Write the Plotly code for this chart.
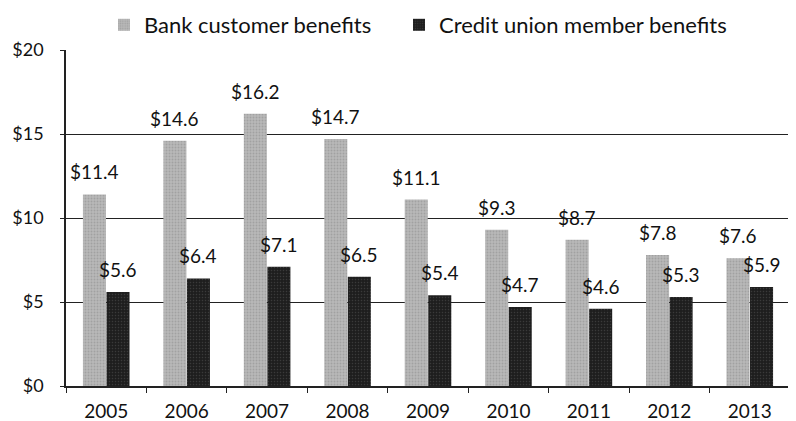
import plotly.graph_objects as go

years = ["2005", "2006", "2007", "2008", "2009", "2010", "2011", "2012", "2013"]
bank = [11.4, 14.6, 16.2, 14.7, 11.1, 9.3, 8.7, 7.8, 7.6]
credit_union = [5.6, 6.4, 7.1, 6.5, 5.4, 4.7, 4.6, 5.3, 5.9]
y_ticks = [0, 5, 10, 15, 20]
y_tick_labels = ["$0", "$5", "$10", "$15", "$20"]

FONT = "Lato"
W, H = 788, 413  # page body has an 8px margin
L, R, T, B = 58, 6, 42, 35
BARGAP = 0.415

fig = go.Figure()
fig.add_trace(go.Bar(
    x=years, y=bank, name="Bank customer benefits", legend="legend",
    marker=dict(color="#b8b8b8", line=dict(width=0),
                pattern=dict(shape=".", fgcolor="#8a8a8a", size=3, solidity=0.3)),
))
fig.add_trace(go.Bar(
    x=years, y=credit_union, name="Credit union member benefits", legend="legend2",
    marker=dict(color="#1e1e1e", line=dict(width=0),
                pattern=dict(shape=".", fgcolor="#555", size=3, solidity=0.2)),
))

# value labels placed above each bar (offset to each bar's centre within the group)
cat_w = (W - L - R) / len(years)
half = cat_w * (1 - BARGAP) / 4
for series, shift in ((bank, -half), (credit_union, half)):
    for i, v in enumerate(series):
        fig.add_annotation(x=i, y=v, xref="x", yref="y", text=f"${v}", showarrow=False,
                           xanchor="center", yanchor="bottom",
                           xshift=shift, yshift=9,
                           font=dict(family=FONT, size=19, color="#111"))

legend_common = dict(orientation="h", xref="container", yref="container",
                     y=1 - 17 / H, yanchor="middle", xanchor="left",
                     font=dict(family=FONT, size=22, color="#111"),
                     itemwidth=30, bgcolor="rgba(0,0,0,0)")

fig.update_layout(
    width=W, height=H,
    margin=dict(l=L, r=R, t=T, b=B, autoexpand=False),
    paper_bgcolor="white", plot_bgcolor="white",
    barmode="group", bargap=BARGAP, bargroupgap=0.02,
    font=dict(family=FONT, size=16, color="#111"),
    showlegend=True,
    legend=dict(x=96 / W, **legend_common),
    legend2=dict(x=391 / W, **legend_common),
)
fig.update_xaxes(
    type="category",
    showline=True, linecolor="#222", linewidth=1.5,
    ticks="outside", tickson="boundaries", ticklen=5, tickcolor="#222",
    tickfont=dict(family=FONT, size=19, color="#111"),
    ticklabelstandoff=7,
    showgrid=False, automargin=False,
)
fig.update_yaxes(
    range=[0, 20], tickvals=y_ticks, ticktext=y_tick_labels,
    showline=True, linecolor="#222", linewidth=1.5,
    showgrid=True, gridcolor="#222", gridwidth=1.2,
    ticks="outside", ticklen=4, tickcolor="#222",
    tickfont=dict(family=FONT, size=18, color="#111"),
    ticklabelstandoff=13,
    zeroline=False, automargin=False,
)

fig.write_html("out.html")
